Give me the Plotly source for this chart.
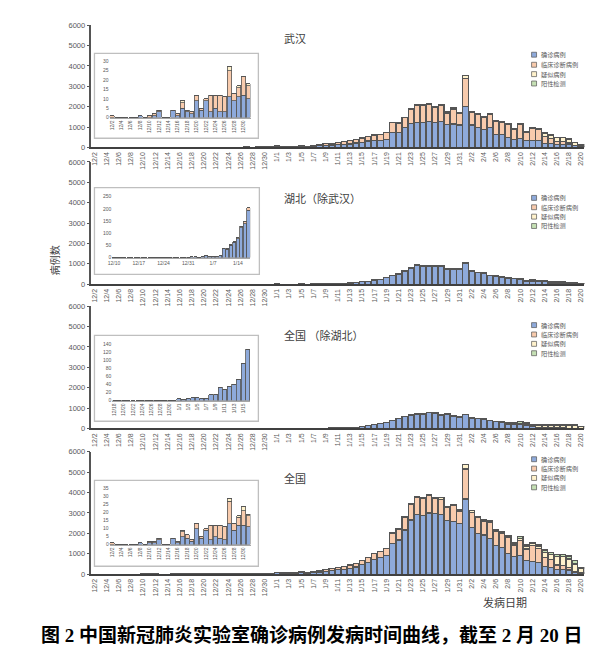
import plotly.graph_objects as go

# ---------------- categories ----------------
dates = [f"12/{d}" for d in range(2, 32)] + [f"1/{d}" for d in range(1, 32)] + [f"2/{d}" for d in range(1, 21)]
series_names = ["确诊病例", "临床诊断病例", "疑似病例", "阳性检测"]
panel_titles = ["武汉", "湖北（除武汉）", "全国 （除湖北）", "全国"]

# ---------------- data: 武汉 ----------------
wh_confirmed = [0,0,0,0,0,0,1,0,0,1,3,0,0,4,1,5,3,2,9,4,9,3,5,3,3,11,9,11,12,10,
                45,40,35,30,50,40,70,80,110,120,140,150,170,220,260,310,340,340,390,730,750,960,1190,1240,1240,1280,1240,1280,1120,1150,1100,
                2000,1100,960,860,960,620,620,470,370,450,330,330,340,180,180,150,150,150,80,50]
wh_clinical = [1,0,0,0,0,0,0,0,1,1,1,0,0,0,1,3,1,1,3,1,1,9,7,9,8,14,4,5,10,7,
               25,20,20,20,30,20,40,50,80,80,110,140,170,170,200,220,270,310,340,490,450,500,690,800,800,810,720,760,570,720,580,
               1380,630,650,600,670,670,620,680,510,700,410,620,530,365,260,150,140,70,30,20]
wh_suspected = [0,0,0,0,0,0,0,0,0,0,0,0,0,0,0,1,0,0,0,0,0,0,0,0,0,2,0,1,0,1,
                0,0,0,0,0,0,0,0,0,0,0,0,0,0,0,0,0,0,0,20,20,20,40,40,40,40,40,40,80,60,40,
                130,40,60,50,40,30,30,40,30,40,40,40,70,160,170,190,200,190,140,75]
wh_positive = [0,0,0,0,0,0,0,0,0,0,0,0,0,0,0,0,0,0,0,0,0,0,0,0,0,0,0,0,0,0,
               0,0,0,0,0,0,0,0,0,0,0,0,0,0,0,0,0,0,0,0,0,0,0,0,0,0,0,0,0,0,0,
               0,0,0,0,0,0,0,0,0,0,0,0,0,10,10,10,10,10,10,5]

# ---------------- data: 湖北（除武汉） ----------------
hb_confirmed = [0,0,0,0,0,0,0,0,1,0,0,0,0,0,0,0,1,0,0,0,0,0,0,0,0,1,0,0,2,2,
                4,3,2,3,7,3,4,5,7,38,35,51,62,78,123,139,195,215,310,420,500,625,770,905,865,865,865,855,730,730,730,
                1010,650,560,525,415,395,335,305,265,235,130,160,135,130,50,40,50,30,25,25]
hb_clinical = [0,0,0,0,0,0,0,0,0,0,0,0,0,0,0,0,0,0,0,0,0,0,0,0,0,0,0,0,0,0,
               0,0,0,0,0,0,0,0,0,1,1,2,2,3,5,8,10,15,20,20,20,25,30,35,35,35,35,35,30,30,30,
               40,25,25,20,20,20,20,15,15,15,10,10,10,10,5,5,5,5,5,0]
hb_suspected = [0,0,0,0,0,0,0,0,0,0,0,0,0,0,0,0,0,0,0,0,0,0,0,0,0,0,0,0,0,0,
                0,0,0,0,0,0,0,0,0,0,0,0,0,0,0,0,0,0,0,0,0,0,0,0,0,0,0,0,0,0,0,
                10,5,5,5,5,5,5,10,10,10,10,35,30,35,30,35,45,35,30,10]
hb_positive = [0,0,0,0,0,0,0,0,0,0,0,0,0,0,0,0,0,0,0,0,0,0,0,0,0,0,0,0,0,0,
               0,0,0,0,0,0,0,0,0,0,0,0,0,0,0,0,0,0,0,0,0,0,0,0,0,0,0,0,0,0,0,
               0,0,0,0,0,0,0,0,0,0,10,25,25,25,25,30,30,30,10,5]

# ---------------- data: 全国（除湖北） ----------------
xh_confirmed = [0,0,0,0,0,0,0,0,0,0,0,0,0,0,0,0,1,1,1,0,0,0,1,1,1,1,1,1,1,0,
                5,2,5,7,7,5,6,14,15,33,28,36,41,52,92,127,200,240,300,400,470,575,650,710,710,780,760,650,700,600,550,
                670,510,470,455,375,330,295,220,200,200,130,80,60,40,30,20,20,15,10,5]
xh_clinical = [0,0,0,0,0,0,0,0,0,0,0,0,0,0,0,0,0,0,0,0,0,0,0,0,0,0,0,0,0,0,
               0,0,0,0,0,0,0,0,0,0,0,0,0,0,0,0,0,0,0,0,0,5,5,5,5,5,5,5,5,5,5,
               5,5,5,5,0,0,0,0,0,0,0,0,0,0,0,0,0,0,0,0]
xh_suspected = [0,0,0,0,0,0,0,0,0,0,0,0,0,0,0,0,0,0,0,0,0,0,0,0,0,0,0,0,0,0,
                0,0,0,0,0,0,0,0,0,0,0,0,0,0,0,0,0,0,0,0,0,0,5,5,5,5,5,5,5,5,5,
                5,5,5,5,5,5,5,20,30,60,60,60,80,90,100,110,110,120,130,80]
xh_positive = [0,0,0,0,0,0,0,0,0,0,0,0,0,0,0,0,0,0,0,0,0,0,0,0,0,0,0,0,0,0,
               0,0,0,0,0,0,0,0,0,0,0,0,0,0,0,0,0,0,0,0,0,0,0,0,0,0,0,0,0,0,0,
               0,0,0,0,10,15,20,50,70,90,80,70,70,80,60,60,60,55,50,15]

# ---------------- data: 全国 ----------------
cn_confirmed = [0,0,0,0,0,0,1,0,1,1,3,0,0,4,1,5,4,2,10,4,9,3,5,4,3,13,9,12,12,11,
                60,45,45,45,65,50,85,100,140,190,210,240,280,350,480,580,730,800,920,1510,1670,2160,2660,2920,2870,3000,2980,2920,2620,2570,2490,
                3690,2300,2000,1920,1750,1390,1300,1030,870,900,660,610,570,380,330,210,210,200,80,50]
cn_clinical = [1,0,0,0,0,0,0,0,1,1,1,0,0,0,1,3,2,1,3,1,1,9,7,8,8,14,4,5,9,7,
               30,25,25,25,35,25,45,60,90,90,110,140,170,170,200,220,280,300,330,510,510,620,740,820,840,840,730,750,650,780,610,
               1470,730,780,670,800,700,690,750,560,750,570,790,700,450,380,240,220,120,60,30]
cn_suspected = [0,0,0,0,0,0,0,0,0,0,0,0,0,0,0,1,0,0,0,0,0,0,0,0,0,2,0,1,3,1,
                0,0,0,0,0,0,0,0,0,0,0,0,0,0,0,0,0,0,0,30,30,40,80,60,60,50,60,70,60,80,60,
                200,80,60,70,60,60,70,60,60,100,110,90,100,240,250,400,420,420,360,220]
cn_positive = [0,0,0,0,0,0,0,0,0,0,0,0,0,0,0,0,0,0,0,0,0,0,0,0,0,0,0,0,0,0,
               0,0,0,0,0,0,0,0,0,0,0,0,0,0,0,0,0,0,0,0,0,0,0,0,0,0,0,0,0,0,0,
               0,0,0,0,10,10,20,60,70,100,90,80,60,110,110,120,120,150,160,30]

# inset ranges (first, last category) and tick labels
inset_ranges = [("12/2", "12/31"), ("12/10", "1/17"), ("12/18", "1/16"), ("12/2", "12/31")]
inset1_ticks = ["12/2","12/4","12/6","12/8","12/10","12/12","12/14","12/16","12/18","12/20","12/22","12/24","12/26","12/28","12/30"]
inset2_ticks = ["12/10","12/17","12/24","12/31","1/7","1/14"]
inset3_ticks = ["12/18","12/20","12/22","12/24","12/26","12/28","12/30","1/1","1/3","1/5","1/7","1/9","1/11","1/13","1/15"]
inset4_ticks = inset1_ticks
inset_ymax = [30, 250, 140, 35]
inset_dtick = [5, 50, 20, 5]

panels = [
    [wh_confirmed, wh_clinical, wh_suspected, wh_positive],
    [hb_confirmed, hb_clinical, hb_suspected, hb_positive],
    [xh_confirmed, xh_clinical, xh_suspected, xh_positive],
    [cn_confirmed, cn_clinical, cn_suspected, cn_positive],
]
inset_ticks = [inset1_ticks, inset2_ticks, inset3_ticks, inset4_ticks]

# ---------------- styling / layout geometry ----------------
W, H = 612, 651
colors = ["#8eaadb", "#f8cbad", "#fff2cc", "#c5e0b4"]
edge = "#555555"
txt = "#595959"
LAT = "Liberation Sans, Noto Sans CJK SC, sans-serif"
CJK = "Noto Sans CJK SC, sans-serif"

def px(x): return x / W
def py(y): return 1 - y / H

main_x = [px(80), px(576)]
main_y_pix = [(13.3, 137.3), (152, 276), (298.3, 422.3), (446, 570)]
inset_x_pix = [(98.3, 240.1), (100.9, 239.8), (101, 239.6), (98.3, 240.1)]
inset_y_pix = [(50, 107), (187.3, 249), (336.7, 394), (483.3, 540)]
inset_box = [(83, 42, 248, 128), (83, 178, 249, 266), (83, 328, 248, 415), (83, 475, 248, 562)]
title_y = [26, 189, 328, 473]
legend_y = [[43.3, 53.5, 63, 72.5], [188.5, 198, 207.5, 217], [317.5, 327, 336.5, 346], [453.5, 463, 472.5, 482]]

fig = go.Figure()
layout = dict(width=W, height=H, margin=dict(l=0, r=0, t=0, b=0),
              paper_bgcolor="white", plot_bgcolor="white", barmode="stack",
              bargap=0.1, showlegend=False, font=dict(family=LAT, color=txt))
shapes, annotations = [], []

for p in range(4):
    mi = p + 1           # main axis index
    ii = p + 5           # inset axis index
    mx = "x" if mi == 1 else f"x{mi}"
    my = "y" if mi == 1 else f"y{mi}"
    ix, iy = f"x{ii}", f"y{ii}"
    # main bars
    for s in range(4):
        fig.add_trace(go.Bar(x=dates, y=panels[p][s], xaxis=mx, yaxis=my, name=series_names[s],
                             marker=dict(color=colors[s], line=dict(color=edge, width=1.2))))
    # inset bars
    a, b = dates.index(inset_ranges[p][0]), dates.index(inset_ranges[p][1]) + 1
    for s in range(4):
        fig.add_trace(go.Bar(x=dates[a:b], y=panels[p][s][a:b], xaxis=ix, yaxis=iy, name=series_names[s],
                             marker=dict(color=colors[s], line=dict(color=edge, width=0.8))))
    y0, y1 = main_y_pix[p]
    layout["xaxis" if mi == 1 else f"xaxis{mi}"] = dict(
        domain=main_x, anchor=my, type="category", categoryorder="array", categoryarray=dates,
        tickmode="array", tickvals=dates[::2], ticktext=dates[::2], tickangle=-90,
        tickfont=dict(size=7, color=txt, family=LAT), showline=True, linecolor="#404040",
        linewidth=2, showgrid=False, zeroline=False, ticks="", range=[-0.5, len(dates) - 0.5])
    layout["yaxis" if mi == 1 else f"yaxis{mi}"] = dict(
        domain=[py(y1), py(y0)], anchor=mx, range=[0, 6000], dtick=1000, tick0=0,
        ticks="outside", ticklen=3, tickcolor=edge, showline=True, linecolor=edge, linewidth=1.5,
        showgrid=False, zeroline=False, tickfont=dict(size=7.5, color=txt, family=LAT))
    ix0, ix1 = inset_x_pix[p]
    iy0, iy1 = inset_y_pix[p]
    sub = dates[a:b]
    layout[f"xaxis{ii}"] = dict(
        domain=[px(ix0), px(ix1)], anchor=iy, type="category", categoryorder="array", categoryarray=sub,
        tickmode="array", tickvals=inset_ticks[p], ticktext=inset_ticks[p],
        tickangle=0 if p == 1 else -90, tickfont=dict(size=5, color=txt, family=LAT),
        showline=True, linecolor="#a6a6a6", linewidth=1, showgrid=False, zeroline=False,
        ticks="", range=[-0.5, len(sub) - 0.5])
    layout[f"yaxis{ii}"] = dict(
        domain=[py(iy1), py(iy0)], anchor=ix, range=[0, inset_ymax[p]], dtick=inset_dtick[p],
        showline=False, showgrid=False, zeroline=False, ticks="",
        tickfont=dict(size=5, color=txt, family=LAT))
    bx0, by0, bx1, by1 = inset_box[p]
    shapes.append(dict(type="rect", xref="paper", yref="paper", x0=px(bx0), x1=px(bx1),
                       y0=py(by1), y1=py(by0), line=dict(color="#bfbfbf", width=1.3),
                       fillcolor="white", layer="below"))
    # panel title
    annotations.append(dict(text=panel_titles[p], x=px(272), y=py(title_y[p]), xref="paper", yref="paper",
                            xanchor="left", yanchor="middle", showarrow=False,
                            font=dict(size=11, color="#404040", family=CJK)))
    # legend
    for s in range(4):
        ly = legend_y[p][s]
        shapes.append(dict(type="rect", xref="paper", yref="paper", x0=px(523), x1=px(528),
                           y0=py(ly + 2.5), y1=py(ly - 2.5), fillcolor=colors[s],
                           line=dict(color=edge, width=0.7), layer="above"))
        annotations.append(dict(text=series_names[s], x=px(530), y=py(ly), xref="paper", yref="paper",
                                xanchor="left", yanchor="middle", showarrow=False,
                                font=dict(size=6.2, color=txt, family=CJK)))

annotations.append(dict(text="病例数", x=px(43), y=py(252), xref="paper", yref="paper",
                        textangle=-90, showarrow=False, xanchor="center", yanchor="middle",
                        font=dict(size=10, color="#404040", family=CJK)))
annotations.append(dict(text="发病日期", x=px(496), y=py(598), xref="paper", yref="paper",
                        showarrow=False, xanchor="center", yanchor="middle",
                        font=dict(size=11, color="#404040", family=CJK)))
annotations.append(dict(text="<b>图 2 中国新冠肺炎实验室确诊病例发病时间曲线，截至 2 月 20 日</b>",
                        x=px(302), y=py(632), xref="paper", yref="paper",
                        showarrow=False, xanchor="center", yanchor="middle",
                        font=dict(size=19, color="black", family="Liberation Serif, Noto Sans CJK SC, serif")))

layout["shapes"] = shapes
layout["annotations"] = annotations
fig.update_layout(**layout)
fig.write_html("out.html")
